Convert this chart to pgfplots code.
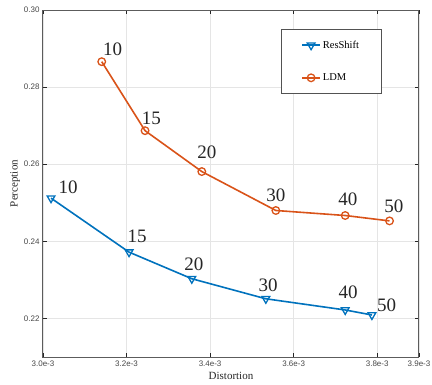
\documentclass[border=0pt]{standalone}
\usepackage{fontspec}
\setmainfont{Liberation Serif}
\setsansfont{Liberation Sans}
\usepackage{pgfplots}
\pgfplotsset{compat=1.18}
\definecolor{mblue}{rgb}{0,0.447,0.741}
\definecolor{morange}{rgb}{0.85,0.325,0.098}
\definecolor{axgray}{rgb}{0.15,0.15,0.15}
\begin{document}
\begin{tikzpicture}
\begin{axis}[
  scale only axis, width=376pt, height=347pt,
  xmin=3.0e-3, xmax=3.9e-3, ymin=0.21, ymax=0.30,
  xtick={3.0e-3,3.2e-3,3.4e-3,3.6e-3,3.8e-3,3.9e-3},
  xticklabels={3.0e-3,3.2e-3,3.4e-3,3.6e-3,3.8e-3,3.9e-3},
  ytick={0.22,0.24,0.26,0.28,0.30},
  yticklabels={0.22,0.24,0.26,0.28,0.30},
  scaled x ticks=false, scaled y ticks=false,
  tick align=inside, major tick length=4pt,
  tick style={axgray, line width=0.7pt},
  axis line style={axgray!75, line width=1pt},
  grid=major, major grid style={gray!20, line width=0.5pt},
  /pgf/number format/assume math mode=true,
  ticklabel style={font=\sffamily\fontsize{8}{9}\selectfont, text=axgray!85},
  xlabel={Distortion}, ylabel={Perception},
  label style={font=\fontsize{11}{12}\selectfont, text=axgray},
  xlabel style={yshift=1pt},
  ylabel style={yshift=-3pt},
  legend style={at={(0.633,0.944)}, anchor=north west, draw=axgray!80, line width=0.6pt,
    font=\fontsize{10.5}{11}\selectfont, inner xsep=20pt, inner ysep=9pt,
    row sep=20pt, legend cell align=left},
  legend image code/.code={\draw[#1, mark repeat=2, mark phase=2] plot coordinates {(0pt,0pt) (9pt,0pt) (18pt,0pt)};},
]
\addplot[mblue, line width=1.6pt, mark=triangle, mark options={rotate=180, solid, line width=1.3pt}, mark size=4.5pt]
  coordinates {(3.0192e-3,0.2512) (3.2060e-3,0.2372) (3.3562e-3,0.2303) (3.5334e-3,0.2251) (3.7234e-3,0.2222) (3.7873e-3,0.2209)};
\addlegendentry{ResShift}
\addplot[morange, line width=1.6pt, mark=o, mark options={solid, line width=1.3pt}, mark size=3.8pt]
  coordinates {(3.1406e-3,0.2866) (3.2443e-3,0.2687) (3.3801e-3,0.2581) (3.5574e-3,0.2480) (3.7234e-3,0.2467) (3.8295e-3,0.2453)};
\addlegendentry{LDM}
\begin{scope}[every node/.style={anchor=base west, inner sep=0pt, font=\fontsize{19}{19}\selectfont, text=black!85}]
\node at (axis cs:3.1437e-3,0.2881) {10};
\node at (axis cs:3.2364e-3,0.2702) {15};
\node at (axis cs:3.3689e-3,0.2614) {20};
\node at (axis cs:3.5341e-3,0.2503) {30};
\node at (axis cs:3.7066e-3,0.2493) {40};
\node at (axis cs:3.8168e-3,0.2475) {50};
\node at (axis cs:3.0367e-3,0.2523) {10};
\node at (axis cs:3.2019e-3,0.2398) {15};
\node at (axis cs:3.3377e-3,0.2325) {20};
\node at (axis cs:3.5157e-3,0.2271) {30};
\node at (axis cs:3.7073e-3,0.2252) {40};
\node at (axis cs:3.7993e-3,0.2217) {50};
\end{scope}
\end{axis}
\pgfresetboundingbox
\path[use as bounding box] (-43pt,-27pt) rectangle (389pt,357pt);
\end{tikzpicture}
\end{document}
